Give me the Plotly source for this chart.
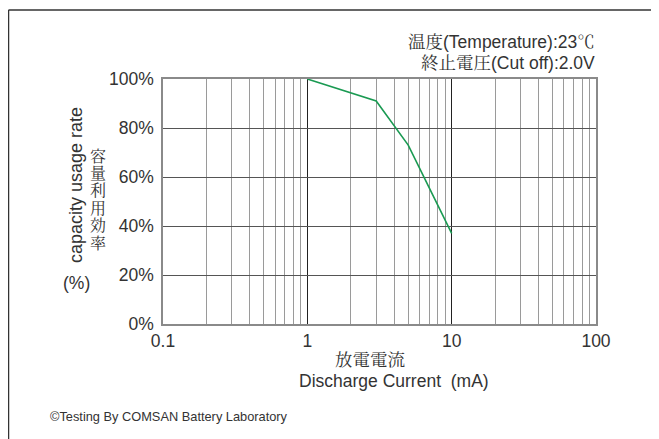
import plotly.graph_objects as go

current_ma = [1, 3, 5, 10]
capacity_pct = [100, 91, 73, 37]
x_ticks = [0.1, 1, 10, 100]
x_tick_labels = ["0.1", "1", "10", "100"]
y_ticks = [0, 20, 40, 60, 80, 100]
y_tick_labels = ["0%", "20%", "40%", "60%", "80%", "100%"]
minor_x = [m * d for d in (0.1, 1, 10) for m in range(2, 10)]
y_title_cjk = "容量利用効率"

# page has an 8px body margin; figure fills the rest of the 659x439 window
OFF = 8
W, H = 659 - OFF, 439 - OFF
L, R, T, B = 163, 596, 79, 324  # plot area in window pixels

def px(x):
    return (x - L) / (R - L)

def py(y):
    return (B - y) / (B - T)

fig = go.Figure()
fig.add_trace(go.Scatter(x=current_ma, y=capacity_pct, mode="lines",
                         line=dict(color="#1a9a52", width=1.6),
                         showlegend=False, hoverinfo="skip"))

font = "Liberation Sans, Arial, Noto Sans CJK JP, sans-serif"
cjk = "Liberation Sans, Noto Serif CJK JP, Noto Sans CJK JP, sans-serif"

fig.update_layout(
    width=W, height=H,
    margin=dict(l=L - OFF, r=659 - R, t=T - OFF, b=439 - B, pad=0),
    paper_bgcolor="white", plot_bgcolor="white",
    font=dict(family=font, color="#333", size=17),
    xaxis=dict(type="log", range=[-1, 2], tickvals=x_ticks, ticktext=x_tick_labels,
               showgrid=True, gridcolor="#222", gridwidth=1,
               minor=dict(tickvals=minor_x, showgrid=True, gridcolor="#9a9a9a", gridwidth=1, ticklen=0),
               showline=True, mirror=True, linecolor="#8a8a8a", linewidth=1.5,
               ticks="", tickfont=dict(size=17.5, color="#333"), zeroline=False),
    yaxis=dict(range=[0, 100], tickvals=y_ticks, ticktext=y_tick_labels,
               showgrid=True, gridcolor="#555", gridwidth=1,
               showline=True, mirror=True, linecolor="#8a8a8a", linewidth=1.5,
               ticks="", ticklabelstandoff=4,
               tickfont=dict(size=17.5, color="#333"), zeroline=False),
)

ann = []
def add(text, x, y, size=17.5, xanchor="center", fam=font, angle=0):
    ann.append(dict(text=text, x=px(x), y=py(y), xref="paper", yref="paper",
                    showarrow=False, xanchor=xanchor, yanchor="middle",
                    textangle=angle, font=dict(family=fam, size=size, color="#333")))

add("温度(Temperature):23℃", 597, 42, size=17.5, xanchor="right", fam=cjk)
add("終止電圧(Cut off):2.0V", 597, 63, size=17.5, xanchor="right", fam=cjk)
add("capacity usage rate", 76, 185, size=18, angle=-90)
for i, ch in enumerate(y_title_cjk):
    add(ch, 98, 156 + i * 17.4, size=16, fam=cjk)
add("(%)", 76, 283, size=17.5)
add("放電電流", 370, 360, size=17.5, fam=cjk)
add("Discharge Current  (mA)", 394, 381, size=17.5)
add("©Testing By COMSAN Battery Laboratory", 48, 416, size=12.8, xanchor="left")
fig.update_layout(annotations=ann)

fig.add_shape(type="line", xref="paper", yref="paper",
              x0=px(8.5), x1=px(665), y0=py(10), y1=py(10), line=dict(color="#333", width=1.5))
fig.add_shape(type="line", xref="paper", yref="paper",
              x0=px(8.5), x1=px(8.5), y0=py(10), y1=py(445), line=dict(color="#333", width=1.5))

fig.write_html("out.html")
